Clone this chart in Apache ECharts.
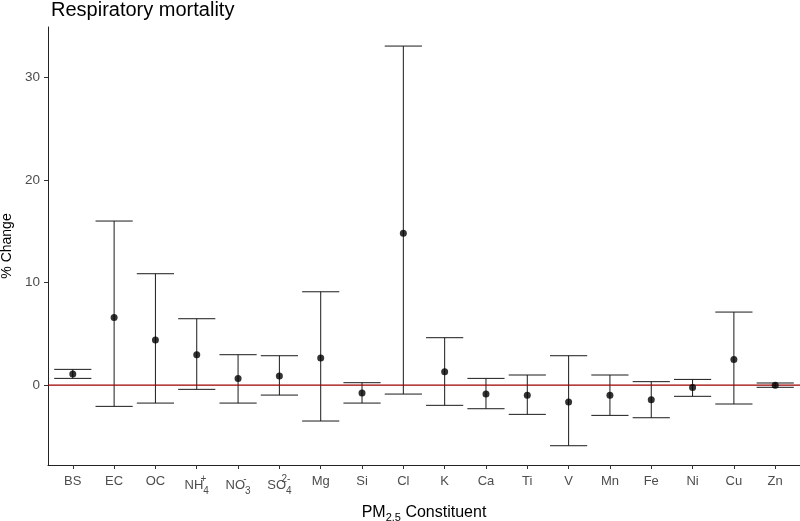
<!DOCTYPE html>
<html><head><meta charset="utf-8">
<script src="https://cdn.jsdelivr.net/npm/echarts@6/dist/echarts.min.js"></script>
<style>html,body{margin:0;padding:0;background:#fff}#c{width:800px;height:521px}</style>
</head><body><div id="c"></div>
<script>
const categories = ['BS','EC','OC','NH4+','NO3-','SO42-','Mg','Si','Cl','K','Ca','Ti','V','Mn','Fe','Ni','Cu','Zn'];
const tickLabels = ['BS','EC','OC','{b|NH}{sp|+}{sb|4}','{b|NO}{sp|-}{sb|3}','{b|SO}{sp|2-}{sb|4}','Mg','Si','Cl','K','Ca','Ti','V','Mn','Fe','Ni','Cu','Zn'];
const estimate = [1.07, 6.6, 4.39, 2.96, 0.65, 0.88, 2.63, -0.78, 14.8, 1.3, -0.88, -1.0, -1.66, -1.0, -1.43, -0.23, 2.5, -0.03];
const lower    = [0.65, -2.08, -1.76, -0.42, -1.76, -0.98, -3.51, -1.76, -0.88, -1.98, -2.31, -2.86, -5.92, -2.96, -3.19, -1.1, -1.85, -0.22];
const upper    = [1.53, 16.0, 10.86, 6.47, 2.96, 2.86, 9.1, 0.23, 33.07, 4.62, 0.65, 0.98, 2.86, 0.98, 0.33, 0.55, 7.12, 0.2];
const yTicks = [0, 10, 20, 30];
const refLine = 0;
const xIdx = categories.map((c, i) => i);

const FONT = '"Liberation Sans", Arial, sans-serif';
const TICKCOL = '#4d4d4d';
const XMIN = -0.6, XMAX = categories.length - 0.4;

const chart = echarts.init(document.getElementById('c'), null, {renderer: 'canvas'});
const errData = categories.map((c, i) => [i, lower[i], upper[i]]);
const ptData = categories.map((c, i) => [i, estimate[i]]);

chart.setOption({
  animation: false,
  backgroundColor: '#fff',
  title: {
    text: 'Respiratory mortality', left: 46, top: -5,
    textStyle: {fontFamily: FONT, fontSize: 20, fontWeight: 'normal', color: '#000'}
  },
  grid: {left: 48, right: 0, top: 27, bottom: 56, containLabel: false, outerBoundsMode: 'none'},
  xAxis: {
    type: 'value', min: XMIN, max: XMAX,
    splitLine: {show: false},
    axisLine: {show: true, onZero: false, lineStyle: {color: '#222', width: 1}},
    axisTick: {show: true, length: 4, lineStyle: {color: '#333'}, customValues: xIdx},
    axisLabel: {
      customValues: xIdx, margin: 9, color: TICKCOL, fontFamily: FONT, fontSize: 13, lineHeight: 15,
      formatter: v => tickLabels[Math.round(v)],
      rich: {
        b: {fontFamily: FONT, fontSize: 13, color: TICKCOL, lineHeight: 22},
        sp: {fontFamily: FONT, fontSize: 10, color: TICKCOL, lineHeight: 10, verticalAlign: 'top', width: 0},
        sb: {fontFamily: FONT, fontSize: 10, color: TICKCOL, lineHeight: 9, verticalAlign: 'bottom'}
      }
    },
    name: '{a|PM}{s|2.5}{a| Constituent}', nameLocation: 'middle', nameGap: 38,
    nameTextStyle: {
      rich: {
        a: {fontFamily: FONT, fontSize: 16, color: '#000', lineHeight: 20},
        s: {fontFamily: FONT, fontSize: 11, color: '#000', lineHeight: 8, verticalAlign: 'bottom'}
      }
    }
  },
  yAxis: {
    type: 'value', min: -7.8, max: 34.93,
    splitLine: {show: false},
    axisLine: {show: true, onZero: false, lineStyle: {color: '#222', width: 1}},
    axisTick: {show: true, length: 4, lineStyle: {color: '#333'}, customValues: yTicks},
    axisLabel: {customValues: yTicks, margin: 8, color: TICKCOL, fontFamily: FONT, fontSize: 13.5},
    name: '% Change', nameLocation: 'middle', nameRotate: 90, nameGap: 30,
    nameTextStyle: {fontFamily: FONT, fontSize: 14, color: '#000'}
  },
  series: [
    {
      type: 'custom', data: errData, z: 2,
      renderItem: function (params, api) {
        const x = api.value(0);
        const lo = api.coord([x, api.value(1)]);
        const hi = api.coord([x, api.value(2)]);
        const hw = api.size([0.9, 0])[0] / 2;
        const st = {stroke: '#1a1a1a', lineWidth: 1, fill: null};
        return {type: 'group', children: [
          {type: 'line', shape: {x1: lo[0], y1: lo[1], x2: hi[0], y2: hi[1]}, style: st},
          {type: 'line', shape: {x1: lo[0] - hw, y1: lo[1], x2: lo[0] + hw, y2: lo[1]}, style: st},
          {type: 'line', shape: {x1: hi[0] - hw, y1: hi[1], x2: hi[0] + hw, y2: hi[1]}, style: st}
        ]};
      }
    },
    {
      type: 'line', data: [[XMIN, refLine], [XMAX, refLine]], z: 3,
      symbol: 'none', silent: true,
      lineStyle: {color: '#9e0000', width: 1.2}, itemStyle: {color: '#9e0000'}
    },
    {
      type: 'scatter', data: ptData, symbol: 'circle', symbolSize: 7, z: 4,
      itemStyle: {color: '#000'}
    }
  ]
});
</script></body></html>
